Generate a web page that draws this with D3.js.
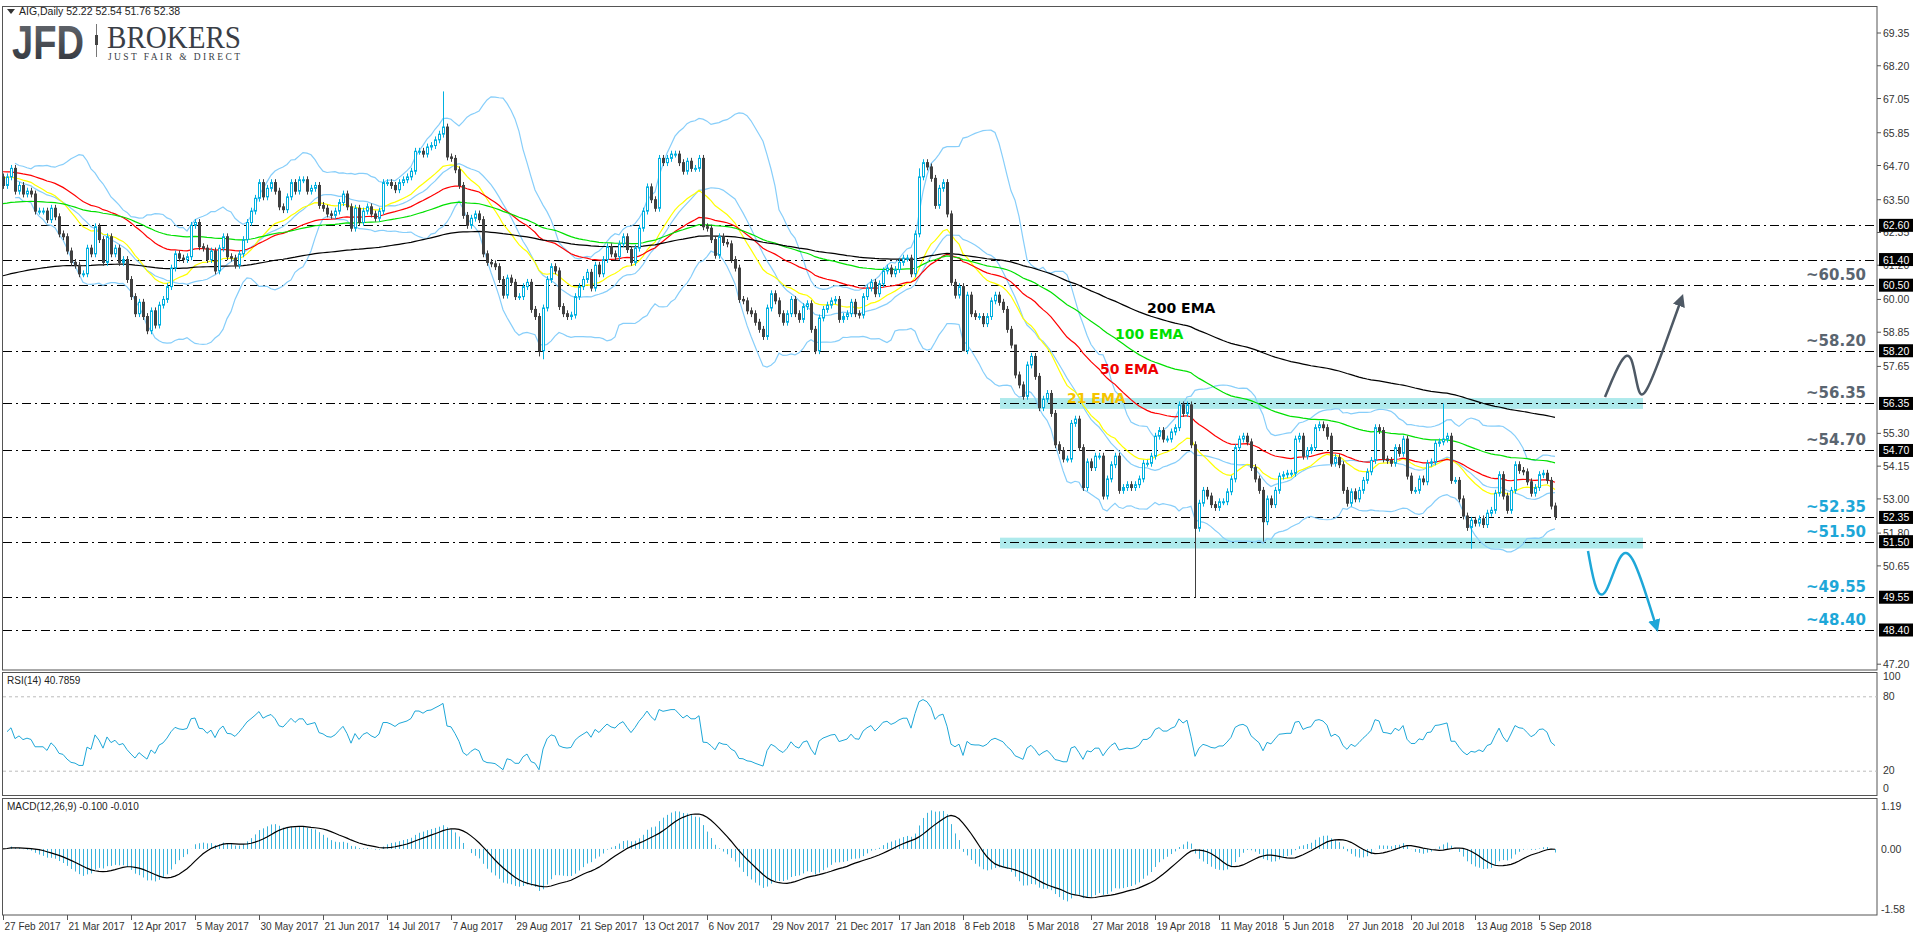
<!DOCTYPE html>
<html><head><meta charset="utf-8">
<script src="https://cdn.jsdelivr.net/npm/d3@7"></script>
<style>body{margin:0;background:#fff}svg{display:block}</style>
</head><body>
<svg id="c" width="1916" height="936"></svg>
<script>
const closes = [
64.0,64.3,64.6,63.8,64.0,63.7,63.8,63.7,63.1,63.1,
63.1,62.8,63.2,62.9,62.3,62.2,61.7,61.3,61.2,60.9,
60.9,61.8,61.6,62.55,62.1,61.3,62.2,61.6,61.8,61.3,
61.4,60.7,60.1,59.5,59.9,59.4,58.9,59.6,59.1,59.8,
60.0,60.45,61.1,61.6,61.45,61.4,61.5,62.6,62.7,61.85,
61.8,61.4,61.7,61.0,61.8,62.2,61.5,61.45,61.2,61.6,
62.1,62.7,63.1,63.55,64.1,63.6,63.9,64.1,63.8,63.25,
63.15,63.6,64.1,63.8,64.2,64.2,63.8,63.9,64.0,63.3,
63.2,63.0,62.95,63.1,63.4,63.7,63.25,62.5,63.2,62.7,
63.1,63.25,63.0,62.85,63.1,64.1,64.1,64.0,63.85,64.1,
64.2,64.3,64.5,65.2,65.2,65.1,65.35,65.4,65.6,65.8,
66.05,65.0,64.95,64.55,64.0,62.95,62.6,62.85,63.0,62.8,
61.6,61.3,61.25,61.15,60.7,60.15,60.75,60.6,60.1,60.1,
60.45,60.6,59.65,59.4,58.2,59.7,60.7,61.15,61.0,59.75,
59.5,59.4,59.45,60.1,60.45,60.7,60.95,60.4,61.2,60.9,
61.4,61.85,61.6,61.5,61.95,62.2,61.75,61.3,61.8,62.5,
63.1,63.95,63.5,63.2,64.95,64.8,64.95,65.1,65.1,64.8,
64.5,64.85,64.6,64.6,64.95,62.55,62.5,62.1,61.55,62.2,
62.0,61.95,61.4,61.1,60.0,59.95,59.6,59.5,59.2,58.95,
58.7,59.7,60.2,59.95,59.5,59.2,59.5,60.0,59.5,59.3,
59.75,59.85,58.95,58.2,59.35,59.65,59.8,59.95,60.0,59.3,
59.4,59.5,59.9,59.5,59.45,60.1,60.4,60.6,60.2,60.55,
61.0,61.1,60.9,61.05,61.3,61.45,61.45,60.9,62.3,64.3,
64.8,64.65,64.25,63.3,63.9,64.1,63.0,60.6,60.15,60.45,
58.2,60.15,59.5,59.4,59.4,59.15,59.4,59.95,60.15,59.9,
59.65,58.95,58.4,57.35,57.0,56.6,57.7,58.0,57.3,56.2,
56.5,56.7,56.0,54.9,54.7,54.4,54.4,55.65,55.8,54.8,
53.4,54.3,54.1,54.5,54.5,53.1,53.7,54.2,54.5,53.3,
53.4,53.5,53.4,53.5,53.7,54.25,54.25,54.5,55.2,55.4,
55.1,55.1,55.35,55.5,56.3,56.0,56.3,54.9,51.97,52.85,
53.3,53.1,52.8,52.7,52.9,52.9,53.25,53.7,54.8,55.1,
55.2,55.0,54.1,53.7,53.3,52.2,53.0,52.8,53.3,53.8,
53.85,53.9,53.9,55.1,55.2,54.5,54.7,54.8,55.5,55.6,
55.5,55.2,54.25,54.45,54.2,53.3,52.85,53.25,53.0,53.3,
53.65,53.95,54.35,55.5,55.4,54.4,54.35,54.25,54.8,54.6,
55.1,53.8,53.3,53.3,53.7,53.6,54.25,54.3,54.95,55.0,
55.1,55.2,53.65,53.65,53.0,52.4,52.0,52.25,52.15,52.3,
52.1,52.5,52.6,53.2,53.85,53.1,52.6,53.3,54.2,54.0,
53.95,53.6,53.2,53.4,53.85,53.9,53.65,52.75,52.38];
const firstOpen = 64.3;
const wickExtremes = [[110,'h',67.3],[134,'l',58.0],[135,'l',57.9],[240,'l',58.2],[298,'l',49.55],[315,'l',51.5],[360,'h',56.35],[367,'l',51.25],[229,'h',64.6],[253,'h',58.4]];
const emaPeriods = [21,50,100,200];
const emaSeeds = [64.3,64.5,63.35,60.8];
const emaColors = ['#ffff00','#ff0000','#00e000','#000000'];
const rsiSeed = [0.16,0.17];
const levels = [62.60,61.40,60.50,58.20,56.35,54.70,52.35,51.50,49.55,48.40];
const levelNotes = [[60.50,'~60.50','#5a6570'],[58.20,'~58.20','#5a6570'],[56.35,'~56.35','#5a6570'],[54.70,'~54.70','#5a6570'],[52.35,'~52.35','#1ea7d8'],[51.50,'~51.50','#1ea7d8'],[49.55,'~49.55','#1ea7d8'],[48.40,'~48.40','#1ea7d8']];
const zones = [56.35,51.45];
const priceTicks = ['69.35','68.20','67.05','65.85','64.70','63.50','62.35','61.20','60.00','58.85','57.65','55.30','54.15','53.00','51.80','50.65','47.20'];
const dateLabels = ['27 Feb 2017','21 Mar 2017','12 Apr 2017','5 May 2017','30 May 2017','21 Jun 2017','14 Jul 2017','7 Aug 2017','29 Aug 2017','21 Sep 2017','13 Oct 2017','6 Nov 2017','29 Nov 2017','21 Dec 2017','17 Jan 2018','8 Feb 2018','5 Mar 2018','27 Mar 2018','19 Apr 2018','11 May 2018','5 Jun 2018','27 Jun 2018','20 Jul 2018','13 Aug 2018','5 Sep 2018'];
const emaNotes = [['200 EMA',1147,313,'#000'],['100 EMA',1115,339,'#00e000'],['50 EMA',1100,374,'#ee0000'],['21 EMA',1067,403,'#f5c400']];

const N = closes.length;
const svg = d3.select('#c');
const F = 'DejaVu Sans, Verdana, sans-serif';
const FA = 'Liberation Sans, Arial, sans-serif';
const x = d3.scaleLinear().domain([0,388]).range([3,1555]);
const y = d3.scaleLinear().domain([48.40,69.35]).range([630,33]);
const ry = d3.scaleLinear().domain([0,100]).range([796,672]);
const my = d3.scaleLinear().domain([-1.58,1.19]).range([906,806]);
const R = 1877;

const data = closes.map((c,i)=>{const o=i?closes[i-1]:firstOpen;return {i,o,c,h:Math.max(o,c)+0.12,l:Math.min(o,c)-0.12};});
wickExtremes.forEach(([i,k,v])=>{data[i][k]=v;});

function ema(arr,p,seed){const k=2/(p+1);let e=seed;return arr.map(v=>e=v*k+e*(1-k));}
const emas = emaPeriods.map((p,j)=>ema(closes,p,emaSeeds[j]));
const bb = closes.map((c,i)=>{const w=closes.slice(Math.max(0,i-19),i+1);const m=d3.mean(w);const sd=Math.sqrt(d3.mean(w,v=>(v-m)**2));return {i,m,u:m+2*sd,d:m-2*sd};});
let ag=rsiSeed[0],al=rsiSeed[1];const rsi=[];
for(let i=1;i<N;i++){const d=closes[i]-closes[i-1];ag=(ag*13+Math.max(d,0))/14;al=(al*13+Math.max(-d,0))/14;rsi.push([i,100-100/(1+ag/al)]);}
const e12=ema(closes,12,closes[0]),e26=ema(closes,26,closes[0]);
const macd=closes.map((c,i)=>e12[i]-e26[i]);
const sig=macd.map((v,i)=>d3.mean(macd.slice(Math.max(0,i-8),i+1)));

svg.append('rect').attr('x',2.5).attr('y',6.5).attr('width',R-2.5).attr('height',663.5).attr('fill','none').attr('stroke','#555');
svg.append('rect').attr('x',2.5).attr('y',672.5).attr('width',R-2.5).attr('height',123).attr('fill','none').attr('stroke','#555');
svg.append('rect').attr('x',2.5).attr('y',798.5).attr('width',R-2.5).attr('height',116.5).attr('fill','none').attr('stroke','#555');

const main = svg.append('g');
zones.forEach(z=>main.append('rect').attr('x',1000).attr('width',643).attr('y',y(z+0.19)).attr('height',y(z-0.19)-y(z+0.19)).attr('fill','#aeeaec'));
levels.forEach(v=>main.append('line').attr('x1',3).attr('x2',R).attr('y1',Math.round(y(v))+0.5).attr('y2',Math.round(y(v))+0.5).attr('stroke','#000').attr('stroke-width',1).attr('stroke-dasharray','9,4,2,4'));

const bl = k=>d3.line().x(d=>x(d.i)).y(d=>y(d[k]));
['u','m','d'].forEach(k=>main.append('path').datum(bb.slice(3)).attr('d',bl(k)).attr('fill','none').attr('stroke','#87cefa').attr('stroke-width',1.2));
emas.forEach((e,j)=>main.append('path').datum(e).attr('d',d3.line().x((d,i)=>x(i)).y(d=>y(d))).attr('fill','none').attr('stroke',emaColors[j]).attr('stroke-width',1.2));
const cg = main.selectAll('g.c').data(data).join('g');
cg.append('line').attr('x1',d=>Math.round(x(d.i))+0.5).attr('x2',d=>Math.round(x(d.i))+0.5).attr('y1',d=>y(d.h)).attr('y2',d=>y(d.l)).attr('stroke',d=>d.c>=d.o?'#00b0e0':'#404040');
cg.append('rect').attr('x',d=>Math.round(x(d.i))-0.5).attr('width',2).attr('y',d=>y(Math.max(d.o,d.c))).attr('height',d=>Math.max(1,Math.abs(y(d.o)-y(d.c)))).attr('fill',d=>d.c>=d.o?'#fff':'#404040').attr('stroke',d=>d.c>=d.o?'#00b0e0':'#404040').attr('stroke-width',1);

emaNotes.forEach(([t,xx,yy,c])=>main.append('text').attr('x',xx).attr('y',yy).text(t).attr('font-family',F).attr('font-weight','bold').attr('font-size',14).attr('fill',c));
levelNotes.forEach(([v,t,c])=>main.append('text').attr('x',1866).attr('y',y(v)-5).attr('text-anchor','end').text(t).attr('font-family',F).attr('font-weight','bold').attr('font-size',15).attr('fill',c));

const curve=d3.line().curve(d3.curveBasis);
svg.append('defs').html('<marker id="ag" viewBox="0 0 10 10" refX="5" refY="5" markerWidth="5" markerHeight="5" orient="auto"><path d="M0,0L10,5L0,10z" fill="#4e5965"/></marker><marker id="ac" viewBox="0 0 10 10" refX="5" refY="5" markerWidth="5" markerHeight="5" orient="auto"><path d="M0,0L10,5L0,10z" fill="#1ea7d8"/></marker>');
main.append('path').attr('d',curve([[1605,397],[1622,356],[1632,352],[1638,395],[1645,398],[1665,345],[1681,300]])).attr('fill','none').attr('stroke','#4e5965').attr('stroke-width',2.5).attr('marker-end','url(#ag)');
main.append('path').attr('d',curve([[1588,551],[1596,595],[1606,598],[1620,550],[1632,552],[1648,600],[1656,626]])).attr('fill','none').attr('stroke','#1ea7d8').attr('stroke-width',2.5).attr('marker-end','url(#ac)');

const ax = svg.append('g').attr('font-family',FA).attr('font-size',10.5).attr('fill','#333');
priceTicks.forEach(t=>{const yy=y(+t);ax.append('line').attr('x1',R).attr('x2',R+4).attr('y1',yy).attr('y2',yy).attr('stroke','#555');ax.append('text').attr('x',R+6).attr('y',yy+4).text(t);});
levels.forEach(v=>{const yy=y(v);ax.append('rect').attr('x',R+2).attr('y',yy-6.5).attr('width',34).attr('height',13).attr('fill','#000');ax.append('text').attr('x',R+6).attr('y',yy+4).text(v.toFixed(2)).attr('fill','#fff');});

[80,20].forEach(v=>svg.append('line').attr('x1',3).attr('x2',R).attr('y1',ry(v)).attr('y2',ry(v)).attr('stroke','#bbb').attr('stroke-dasharray','3,3'));
svg.append('path').datum(rsi).attr('d',d3.line().x(d=>x(d[0])).y(d=>ry(d[1]))).attr('fill','none').attr('stroke','#1ea7d8').attr('stroke-width',1);
[[100,680],[80,700],[20,774],[0,792]].forEach(([v,yy])=>ax.append('text').attr('x',R+6).attr('y',yy).text(v));
svg.append('text').attr('x',7).attr('y',684).text('RSI(14) 40.7859').attr('font-family',FA).attr('font-size',10).attr('fill','#222');

svg.append('g').selectAll('line').data(macd).join('line').attr('x1',(d,i)=>Math.round(x(i))+0.5).attr('x2',(d,i)=>Math.round(x(i))+0.5).attr('y1',my(0)).attr('y2',d=>my(d)).attr('stroke','#3ab3dc');
svg.append('path').datum(sig).attr('d',d3.line().x((d,i)=>x(i)).y(d=>my(d))).attr('fill','none').attr('stroke','#000').attr('stroke-width',1.2);
[['1.19',810],['0.00',853],['-1.58',913]].forEach(([t,yy])=>ax.append('text').attr('x',R+4).attr('y',yy).text(t));
svg.append('text').attr('x',7).attr('y',810).text('MACD(12,26,9) -0.100 -0.010').attr('font-family',FA).attr('font-size',10).attr('fill','#222');

dateLabels.forEach((t,k)=>{const xx=Math.round(x(k*16))+0.5;ax.append('line').attr('x1',xx).attr('x2',xx).attr('y1',915).attr('y2',920).attr('stroke','#555');ax.append('text').attr('x',xx+1).attr('y',930).attr('font-size',10).text(t);});

svg.append('path').attr('d','M7,9L15,9L11,14z').attr('fill','#333');
svg.append('text').attr('x',19).attr('y',15).text('AIG,Daily  52.22 52.54 51.76 52.38').attr('font-family',FA).attr('font-size',10.5).attr('fill','#222');
const lg = svg.append('defs').append('linearGradient').attr('id','lg').attr('x1',0).attr('y1',0).attr('x2',0).attr('y2',1);
lg.append('stop').attr('offset',0).attr('stop-color','#6a6e74');lg.append('stop').attr('offset',1).attr('stop-color','#2c3038');
svg.append('text').attr('x',12).attr('y',59).text('JFD').attr('font-family',FA).attr('font-weight','bold').attr('font-size',49).attr('textLength',72).attr('lengthAdjust','spacingAndGlyphs').attr('fill','url(#lg)');
svg.append('rect').attr('x',96).attr('y',24).attr('width',1).attr('height',33).attr('fill','#777');
svg.append('rect').attr('x',95).attr('y',35).attr('width',3).attr('height',10).attr('fill','#444');
svg.append('text').attr('x',107).attr('y',48).text('BROKERS').attr('font-family','Liberation Serif, serif').attr('font-size',32).attr('textLength',134).attr('lengthAdjust','spacingAndGlyphs').attr('fill','#3a3e46');
svg.append('text').attr('x',108).attr('y',60).text('JUST FAIR & DIRECT').attr('font-family','Liberation Serif, serif').attr('font-size',9.5).attr('textLength',132).attr('fill','#3a3e46');
</script></body></html>
